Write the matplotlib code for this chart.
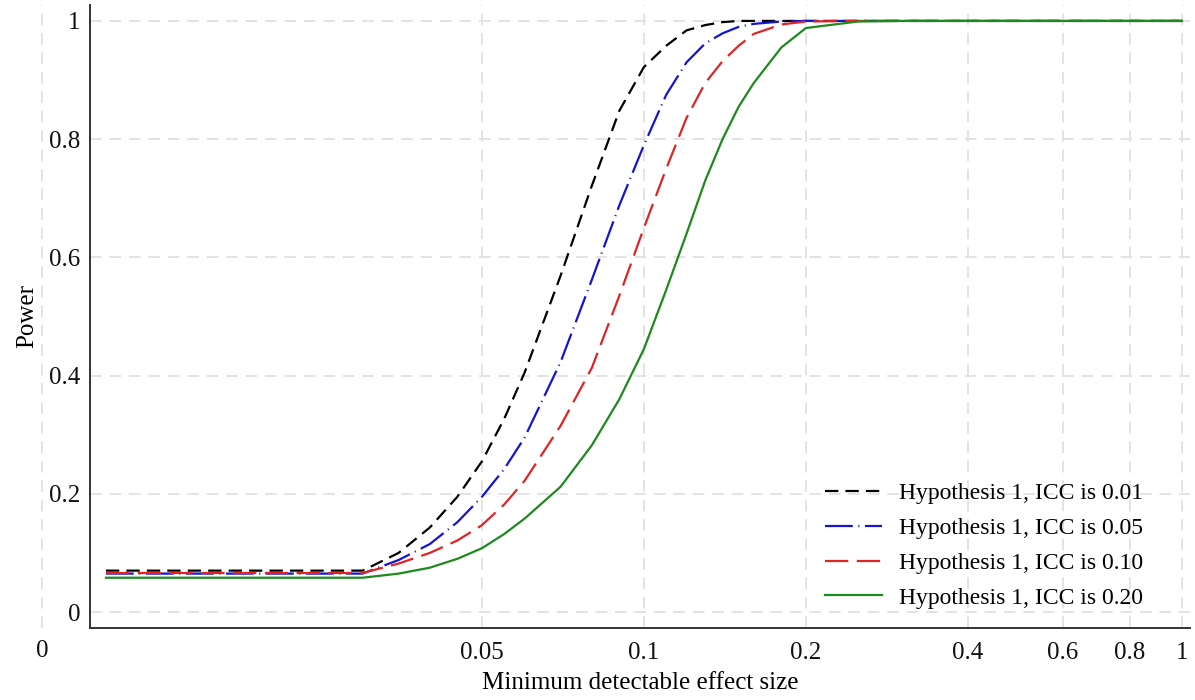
import matplotlib
matplotlib.use("Agg")
import matplotlib.pyplot as plt
import matplotlib.transforms as mtransforms

# ---- data ----
effect_size = [0.01, 0.02, 0.03, 0.035, 0.04, 0.045, 0.05, 0.055, 0.06, 0.07, 0.08, 0.09, 0.10,
               0.11, 0.12, 0.13, 0.14, 0.15, 0.16, 0.18, 0.20, 0.25, 0.30,
               0.40, 0.50, 0.60, 0.70, 0.80, 0.90, 1.00]
power_icc001 = [0.070, 0.070, 0.070, 0.100, 0.143, 0.195, 0.255, 0.327, 0.405, 0.569, 0.721, 0.848, 0.922,
                0.958, 0.984, 0.993, 0.998, 1.000, 1.000, 1.000, 1.000, 1.000, 1.000,
                1.000, 1.000, 1.000, 1.000, 1.000, 1.000, 1.000]
power_icc005 = [0.065, 0.065, 0.065, 0.088, 0.115, 0.152, 0.195, 0.242, 0.295, 0.423, 0.562, 0.688, 0.790,
                0.875, 0.930, 0.962, 0.979, 0.990, 0.995, 0.999, 1.000, 1.000, 1.000,
                1.000, 1.000, 1.000, 1.000, 1.000, 1.000, 1.000]
power_icc010 = [0.066, 0.066, 0.066, 0.082, 0.100, 0.121, 0.147, 0.182, 0.222, 0.315, 0.413, 0.535, 0.650,
                0.750, 0.836, 0.895, 0.932, 0.958, 0.978, 0.994, 0.999, 1.000, 1.000,
                1.000, 1.000, 1.000, 1.000, 1.000, 1.000, 1.000]
power_icc020 = [0.058, 0.058, 0.058, 0.065, 0.075, 0.090, 0.108, 0.132, 0.158, 0.212, 0.282, 0.360, 0.445,
                0.545, 0.640, 0.730, 0.800, 0.855, 0.895, 0.955, 0.988, 0.999, 1.000,
                1.000, 1.000, 1.000, 1.000, 1.000, 1.000, 1.000]
series_labels = ["Hypothesis 1, ICC is 0.01", "Hypothesis 1, ICC is 0.05",
                 "Hypothesis 1, ICC is 0.10", "Hypothesis 1, ICC is 0.20"]
x_ticks = [0.05, 0.1, 0.2, 0.4, 0.6, 0.8, 1.0]
x_tick_labels = ["0.05", "0.1", "0.2", "0.4", "0.6", "0.8", "1"]
y_ticks = [0, 0.2, 0.4, 0.6, 0.8, 1.0]
y_tick_labels = ["0", "0.2", "0.4", "0.6", "0.8", "1"]
zero_label_pos = 0.0076

plt.rcParams['font.family'] = ['Liberation Serif', 'DejaVu Serif']

fig = plt.figure(figsize=(11.95, 7.0), dpi=100)
ax = fig.add_axes([0.0753, 0.1029, 0.9205, 0.89])

grid_col = '#e3e3e3'
grid_dash = (0, (6, 4))
fs = 18

ax.plot(effect_size, power_icc001, color='black', lw=1.6,
        linestyle=(0, (6.0, 3.2)), label=series_labels[0], zorder=3)
ax.plot(effect_size, power_icc005, color='#1414d2', lw=1.6,
        linestyle=(0, (12.5, 2.5, 0.5, 2.5)), label=series_labels[1], zorder=3)
ax.plot(effect_size, power_icc010, color='#e02424', lw=1.6,
        linestyle=(0, (10.5, 3.8)), label=series_labels[2], zorder=3)
ax.plot(effect_size, power_icc020, color='#1e8a1e', lw=1.6,
        linestyle='-', label=series_labels[3], zorder=3)

ax.set_xscale('log')
ax.set_xlim(0.00934, 1.035)
ax.set_ylim(-0.027, 1.027)

ax.set_xticks(x_ticks)
ax.set_xticklabels(x_tick_labels)
ax.xaxis.set_minor_locator(matplotlib.ticker.NullLocator())
ax.set_yticks(y_ticks)
ax.set_yticklabels(y_tick_labels)
ax.tick_params(axis='both', length=0, labelsize=fs, colors='#111111')
ax.tick_params(axis='x', pad=10)
ax.tick_params(axis='y', pad=7)

ax.grid(True, color=grid_col, linestyle=grid_dash, lw=1.4, zorder=0)

# extra "0" position outside the axes
trans = mtransforms.blended_transform_factory(ax.transData, ax.transAxes)
ax.plot([zero_label_pos, zero_label_pos], [0.0, 1.0], transform=trans,
        color=grid_col, linestyle=grid_dash, lw=1.4, clip_on=False, zorder=0)
ax.text(zero_label_pos, -0.019, "0", transform=trans, ha='center', va='top',
        fontsize=fs, color='#111111', clip_on=False)

for side in ['top', 'right']:
    ax.spines[side].set_visible(False)
for side in ['left', 'bottom']:
    ax.spines[side].set_color('#333333')
    ax.spines[side].set_linewidth(1.4)

ax.set_xlabel("Minimum detectable effect size", fontsize=fs, labelpad=6)
ax.set_ylabel("Power", fontsize=fs, labelpad=8)

leg = ax.legend(loc='lower right', bbox_to_anchor=(0.977, -0.003), frameon=False,
                fontsize=17, handlelength=2.4, handletextpad=0.75, labelspacing=0.56)

fig.savefig("out.png", dpi=100, facecolor='white')
